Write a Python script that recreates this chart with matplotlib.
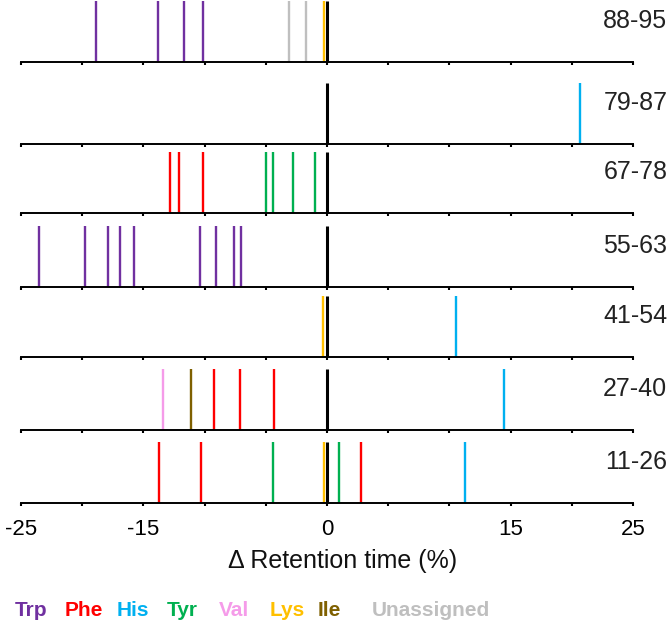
"""Retention-time shift of peptide fragments, one strip per residue range."""

import matplotlib

matplotlib.use("Agg")
import matplotlib.pyplot as plt  # noqa: E402

plt.rcParams["font.family"] = ["Liberation Sans", "DejaVu Sans"]

# residue ranges, top strip first
ROWS = ["88-95", "79-87", "67-78", "55-63", "41-54", "27-40", "11-26"]

# delta retention time (%) of each assigned feature, per residue range
trp_shift = {
    "88-95": [-18.9, -13.8, -11.7, -10.1],
    "55-63": [-23.5, -19.8, -17.9, -16.9, -15.8, -10.4, -9.1, -7.6, -7.0],
}
phe_shift = {
    "67-78": [-12.8, -12.1, -10.1],
    "27-40": [-9.2, -7.1, -4.3],
    "11-26": [-13.7, -10.3, 2.8],
}
his_shift = {"79-87": [20.7], "41-54": [10.5], "27-40": [14.5], "11-26": [11.3]}
tyr_shift = {"67-78": [-5.0, -4.4, -2.8, -1.0], "11-26": [-4.4, 1.0]}
val_shift = {"27-40": [-13.4]}
lys_shift = {"88-95": [-0.25], "41-54": [-0.3], "11-26": [-0.25]}
ile_shift = {"27-40": [-11.1]}
unassigned_shift = {"88-95": [-3.1, -1.7]}

SERIES = [
    ("Trp", trp_shift, "#7030A0"),
    ("Phe", phe_shift, "#FF0000"),
    ("His", his_shift, "#00B0F0"),
    ("Tyr", tyr_shift, "#00B050"),
    ("Val", val_shift, "#F59BE9"),
    ("Lys", lys_shift, "#FFC000"),
    ("Ile", ile_shift, "#7F6000"),
    ("Unassigned", unassigned_shift, "#BFBFBF"),
]

XTICKS = [-25, -20, -15, -10, -5, 0, 5, 10, 15, 20, 25]
XTICK_LABELS = ["-25", "", "-15", "", "", "0", "", "", "15", "", "25"]

# layout (pixels of the 669x626 canvas)
W, H = 669, 626
LEFT_PX, RIGHT_PX = 21, 633
BASELINES_PX = [62, 144, 213, 287, 357, 430, 503]
STRIP_PX = 61
LEGEND_X_PX = [15, 65, 117, 167, 219, 270, 318, 372]

fig = plt.figure(figsize=(W / 100, H / 100), dpi=100)

for i, (row, base) in enumerate(zip(ROWS, BASELINES_PX)):
    ax = fig.add_axes(
        [LEFT_PX / W, 1 - base / H, (RIGHT_PX - LEFT_PX) / W, STRIP_PX / H]
    )
    for name, shifts, color in SERIES:
        xs = shifts.get(row, [])
        if xs:
            ax.vlines(xs, 0, 1, color=color, lw=1.7, clip_on=False, zorder=2)
    ax.vlines([0], 0, 1, color="black", lw=2.2, clip_on=False, zorder=3)
    ax.set_xlim(-25, 25)
    ax.set_ylim(0, 1)
    for s in ("top", "left", "right"):
        ax.spines[s].set_visible(False)
    ax.spines["bottom"].set_linewidth(1.4)
    ax.set_yticks([])
    ax.set_xticks(XTICKS)
    ax.tick_params(axis="x", length=2.5, width=1.5, direction="out", pad=9)
    if i == len(ROWS) - 1:
        ax.set_xticklabels(XTICK_LABELS, fontsize=16)
    else:
        ax.set_xticklabels([])
    ax.text(1.056, 0.67, row, transform=ax.transAxes, ha="right", va="center",
            fontsize=18, color="#222222", clip_on=False)

fig.text(343 / W, 1 - 561 / H, "\u0394 Retention time (%)", ha="center",
         va="center", fontsize=18, color="#111111")

for (name, _, color), x in zip(SERIES, LEGEND_X_PX):
    fig.text(x / W, 1 - 610 / H, name, ha="left", va="center", fontsize=15,
             fontweight="bold", color=color)

fig.savefig("out.png", dpi=100)
